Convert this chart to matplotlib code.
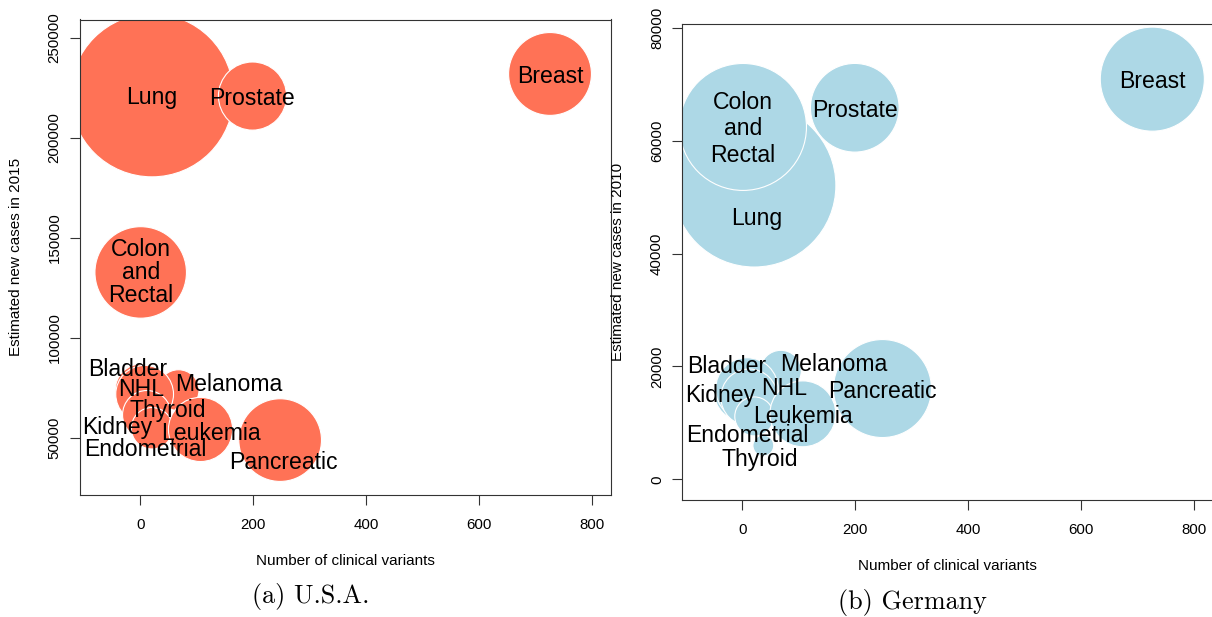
import matplotlib
matplotlib.use("Agg")
import matplotlib.pyplot as plt
from matplotlib.ticker import FuncFormatter

# cancer types, in the order the bubbles are drawn
cancers = ['Breast', 'Lung', 'Prostate', 'Colon\nand\nRectal', 'Bladder', 'Melanoma',
           'NHL', 'Thyroid', 'Kidney', 'Endometrial', 'Leukemia', 'Pancreatic']
variants = [726, 21, 199, 1, 2, 68, 8, 37, 12, 21, 107, 248]

# U.S.A. 2015: new cases (y) and deaths (bubble area)
us_cases = [231840, 221200, 220800, 132700, 74000, 73870, 71850, 62450, 61560, 54870, 54270, 48960]
us_deaths = [40730, 158040, 27540, 49700, 16000, 9940, 19790, 1950, 14080, 10170, 24450, 40560]

# Germany 2010: new cases (y) and deaths (bubble area)
de_cases = [70900, 52070, 65830, 62430, 15500, 19220, 16000, 5980, 14520, 11140, 11600, 16080]
de_deaths = [17470, 42970, 12680, 26000, 5600, 2710, 6300, 700, 5180, 2450, 7000, 15490]

us_yticks = [50000, 100000, 150000, 200000, 250000]
de_yticks = [0, 20000, 40000, 60000, 80000]
xticks = [0, 200, 400, 600, 800]

# label nudges in pixels (right, down) relative to the bubble centre
us_nudge = {'Bladder': (-14, -22.5), 'NHL': (-4, -7.5), 'Melanoma': (50, -8.5),
            'Thyroid': (7, -5.5), 'Kidney': (-29.5, 10), 'Leukemia': (10, 1.5),
            'Endometrial': (-6.5, 18.5), 'Pancreatic': (3, 19.5)}
de_nudge = {'Lung': (2, 30.5), 'Melanoma': (52.5, -8.5), 'Bladder': (-16.5, -27.5),
            'NHL': (37, -3), 'Kidney': (-29.5, -4), 'Endometrial': (-6.5, 17),
            'Thyroid': (-4, 11.5), 'Colon\nand\nRectal': (0, 2)}

W, H, DPI = 1212, 617, 100
R_MAX = 81.6  # radius of the largest bubble, px
PT = 72.0 / DPI

plt.rcParams['font.family'] = ['Liberation Sans', 'DejaVu Sans']

fig = plt.figure(figsize=(W / DPI, H / DPI), dpi=DPI)


def panel(rect, cases, deaths, color, nudge, ylim, yticks, ylabel, linesp):
    l, t, r, b = rect
    ax = fig.add_axes([l / W, 1 - b / H, (r - l) / W, (b - t) / H])
    dmax = max(deaths)
    sizes = [(2 * R_MAX * PT * (d / dmax) ** 0.5) ** 2 for d in deaths]
    ax.scatter(variants, cases, s=sizes, c=color, edgecolors='white', linewidths=0.8)
    for name, x, y in zip(cancers, variants, cases):
        dx, dy = nudge.get(name, (0, 0))
        if '\n' in name:
            va = 'center'
        else:
            va = 'center_baseline'
        ax.annotate(name, (x, y), xytext=(dx * PT, -dy * PT), textcoords='offset points',
                    ha='center', va=va, fontsize=16.6, linespacing=linesp,
                    annotation_clip=False)
    ax.set_xlim(-106.5, 834)
    ax.set_ylim(*ylim)
    ax.set_xticks(xticks)
    ax.set_yticks(yticks)
    ax.yaxis.set_major_formatter(FuncFormatter(lambda v, p: f"{v:.0f}"))
    ax.tick_params(axis='both', direction='out', length=7.2, width=0.8,
                   labelsize=10.8, color='#333333')
    ax.tick_params(axis='x', pad=9.5)
    ax.tick_params(axis='y', pad=6, labelrotation=90)
    for lab in ax.get_yticklabels():
        lab.set_va('center')
    for sp in ax.spines.values():
        sp.set_linewidth(0.8)
        sp.set_color('#333333')
    wpx, hpx = r - l, b - t
    ax.text(0.5, -66 / hpx, 'Number of clinical variants', transform=ax.transAxes,
            ha='center', va='center', fontsize=11)
    ax.text(-64 / wpx, 0.5, ylabel, transform=ax.transAxes, rotation=90,
            ha='center', va='center', fontsize=11)
    return ax


panel((80, 19.5, 611, 495), us_cases, us_deaths, '#FF7256', us_nudge,
      (21530, 259040), us_yticks, 'Estimated new cases in 2015', 1.0)
panel((682.3, 24.3, 1213.3, 500), de_cases, de_deaths, '#ADD8E6', de_nudge,
      (-3670, 80620), de_yticks, 'Estimated new cases in 2010', 1.2)

fig.text(310.7 / W, 1 - 603.5 / H, '(a) U.S.A.', family='cmr10', fontsize=18.8,
         ha='center', va='baseline')
fig.text(912.8 / W, 1 - 609 / H, '(b) Germany', family='cmr10', fontsize=18.8,
         ha='center', va='baseline')

fig.savefig('out.png', dpi=DPI)
